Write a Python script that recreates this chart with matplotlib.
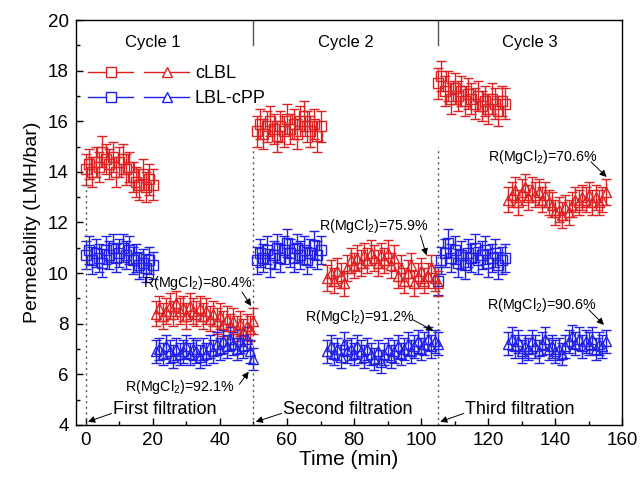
import matplotlib
matplotlib.use("Agg")
import matplotlib.pyplot as plt
from matplotlib.lines import Line2D
from matplotlib.legend_handler import HandlerTuple
import numpy as np

plt.rcParams['font.family'] = ['Liberation Sans', 'DejaVu Sans']
plt.rcParams['mathtext.fontset'] = 'custom'
plt.rcParams['mathtext.rm'] = 'Liberation Sans'

RED = '#dc2222'
BLUE = '#2020e6'

# ---- data ----
# cycle 1
t_c1_sq = np.arange(0, 21)
c1_clbl_sq = [14.1, 14.3, 14.0, 14.4, 14.2, 14.8, 14.5, 14.3, 14.6, 14.0, 14.4,
              14.5, 14.1, 14.2, 13.8, 13.6, 13.5, 13.9, 13.4, 13.7, 13.5]
c1_cpp_sq = [10.7, 10.9, 10.5, 10.8, 10.6, 10.4, 10.9, 10.7, 11.0, 10.6, 10.8,
             11.0, 10.7, 10.9, 10.5, 10.6, 10.3, 10.4, 10.2, 10.5, 10.3]
t_c1_tr = np.arange(21, 51)
c1_clbl_tr = [8.4, 8.6, 8.3, 8.5, 8.7, 8.4, 8.8, 8.5, 8.6, 8.3, 8.7, 8.5, 8.4, 8.6, 8.3,
              8.5, 8.2, 8.4, 8.1, 8.3, 8.0, 8.2, 7.9, 8.1, 7.8, 8.0, 7.7, 7.9, 7.8, 8.1]
c1_cpp_tr = [6.9, 7.0, 6.8, 7.1, 6.9, 6.7, 7.0, 6.8, 6.9, 7.1, 6.8, 7.0, 6.9, 6.7, 7.0,
             6.8, 7.1, 6.9, 7.2, 7.0, 7.3, 7.1, 7.4, 7.2, 7.0, 7.3, 7.1, 7.4, 6.9, 6.6]
# cycle 2
t_c2_sq = np.arange(51, 71)
c2_clbl_sq = [15.6, 15.9, 15.5, 15.8, 16.0, 15.7, 15.4, 15.8, 15.6, 16.1,
              15.7, 15.9, 15.5, 16.0, 16.2, 15.8, 15.6, 15.9, 15.4, 15.8]
c2_cpp_sq = [10.5, 10.8, 10.6, 10.9, 10.4, 10.7, 11.0, 10.6, 10.9, 11.2,
             10.8, 10.6, 11.0, 10.7, 10.9, 10.5, 10.8, 11.1, 10.7, 10.9]
t_c2_tr = np.arange(72, 106)
c2_clbl_tr = [9.8, 10.0, 9.7, 10.1, 9.9, 9.6, 10.2, 10.5, 10.3, 10.6, 10.4, 10.7,
              10.5, 10.8, 10.6, 10.4, 10.7, 10.5, 10.8, 10.3, 10.6, 9.9, 10.2, 9.7,
              10.0, 10.3, 9.6, 9.9, 10.1, 9.7, 9.9, 10.2, 9.8, 9.6]
c2_cpp_tr = [6.9, 7.1, 6.8, 7.0, 6.7, 7.2, 6.9, 7.0, 6.8, 7.1, 6.9, 6.7, 7.0, 6.8,
             6.6, 6.9, 6.5, 6.8, 7.0, 6.7, 6.9, 7.1, 6.8, 7.0, 7.2, 6.9, 7.1, 7.3,
             7.0, 7.2, 7.4, 7.1, 7.3, 7.2]
# cycle 3
t_c3_sq = np.arange(105, 126)
c3_clbl_sq = [17.5, 17.8, 17.2, 17.4, 16.9, 17.3, 17.0, 17.2, 16.8, 17.1, 16.9,
              16.7, 17.0, 16.6, 16.8, 16.5, 16.9, 16.7, 16.4, 16.8, 16.7]
c3_cpp_sq = [9.7, 10.5, 10.8, 11.2, 10.6, 10.9, 10.4, 10.7, 10.3, 10.8, 10.6,
             11.0, 10.5, 10.7, 10.9, 10.4, 10.6, 10.8, 10.3, 10.5, 10.6]
t_c3_tr = np.arange(126, 156)
c3_clbl_tr = [12.9, 13.1, 13.3, 12.8, 13.2, 13.4, 13.0, 13.3, 13.1, 13.2, 12.9,
              13.1, 12.8, 12.7, 12.4, 12.5, 12.3, 12.6, 12.4, 12.7, 12.9, 12.8,
              13.0, 12.9, 13.1, 12.8, 13.0, 12.8, 12.9, 13.2]
c3_cpp_tr = [7.2, 7.4, 7.1, 7.3, 6.9, 7.1, 7.0, 7.3, 7.1, 6.9, 7.2, 7.4, 7.0, 7.1,
             6.9, 7.0, 6.8, 7.1, 7.3, 7.5, 7.2, 7.4, 7.1, 7.3, 7.2, 7.4, 7.0, 7.2,
             7.1, 7.3]

# error bar half-widths per cluster
err_sq_clbl = 0.6
err_sq_cpp = 0.55
err_tr_clbl = 0.5
err_tr_cpp = 0.45

rejections = ['R(MgCl$_2$)=80.4%', 'R(MgCl$_2$)=92.1%', 'R(MgCl$_2$)=75.9%',
              'R(MgCl$_2$)=91.2%', 'R(MgCl$_2$)=70.6%', 'R(MgCl$_2$)=90.6%']
cycles = ['Cycle 1', 'Cycle 2', 'Cycle 3']
filtrations = ['First filtration', 'Second filtration', 'Third filtration']
cycle_starts = [0, 50, 105]

fig = plt.figure(figsize=(6.41, 4.80), dpi=100)
ax = fig.add_axes([0.118, 0.115, 0.853, 0.843])

def eb(t, y, err, color, marker):
    ax.errorbar(t, y, yerr=err, fmt=marker, color=color, mfc='none', mec=color,
                ms=7, mew=1.0, elinewidth=1.0, capsize=3.5, capthick=1.0)

for t, y in [(t_c1_sq, c1_clbl_sq), (t_c2_sq, c2_clbl_sq), (t_c3_sq, c3_clbl_sq)]:
    eb(t, y, err_sq_clbl, RED, 's')
for t, y in [(t_c1_sq, c1_cpp_sq), (t_c2_sq, c2_cpp_sq), (t_c3_sq, c3_cpp_sq)]:
    eb(t, y, err_sq_cpp, BLUE, 's')
for t, y in [(t_c1_tr, c1_clbl_tr), (t_c2_tr, c2_clbl_tr), (t_c3_tr, c3_clbl_tr)]:
    eb(t, y, err_tr_clbl, RED, '^')
for t, y in [(t_c1_tr, c1_cpp_tr), (t_c2_tr, c2_cpp_tr), (t_c3_tr, c3_cpp_tr)]:
    eb(t, y, err_tr_cpp, BLUE, '^')

# dotted start lines and solid cycle separators
for x0, top in zip(cycle_starts, [13.7, 14.9, 15.0]):
    ax.plot([x0, x0], [4, top], ls=(0, (1.5, 2.5)), color='#555555', lw=1.0)
for x0 in cycle_starts[1:]:
    ax.plot([x0, x0], [19.0, 20], color='#555555', lw=1.0)

for label, xc in zip(cycles, [20, 77.5, 132.5]):
    ax.text(xc, 19.1, label, ha='center', va='center', fontsize=12)

# rejection annotations: text centre, arrow start, arrow tip
text_pos = [(33.3, 9.6), (28.0, 5.5), (85.8, 11.85), (81.7, 8.27), (136.3, 14.6), (136.0, 8.74)]
arrow_from = [(46.6, 9.25), (45.8, 5.6), (99.8, 11.5), (97.6, 8.15), (150.6, 14.4), (150.0, 8.55)]
arrow_to = [(49.3, 8.7), (48.6, 6.1), (101.6, 10.7), (103.6, 7.72), (155.3, 13.8), (154.5, 7.95)]
for s, tp, a0, a1 in zip(rejections, text_pos, arrow_from, arrow_to):
    ax.text(tp[0], tp[1], s, ha='center', va='center', fontsize=10.3)
    ax.annotate('', xy=a1, xytext=a0,
                arrowprops=dict(arrowstyle='-|>', color='black', lw=0.7,
                                mutation_scale=10, shrinkA=0, shrinkB=0))

for s, x0, xt in zip(filtrations, cycle_starts, [8.0, 58.7, 113.0]):
    ax.text(xt, 4.62, s, ha='left', va='center', fontsize=13)
    ax.annotate('', xy=(x0 + 0.7, 4.12), xytext=(xt - 0.3, 4.45),
                arrowprops=dict(arrowstyle='-|>', color='black', lw=0.7,
                                mutation_scale=10, shrinkA=0, shrinkB=0))

ax.set_xlim(-3, 160)
ax.set_ylim(4, 20)
ax.set_xticks(np.arange(0, 161, 20))
ax.set_xticks(np.arange(10, 160, 20), minor=True)
ax.set_yticks(np.arange(4, 21, 2))
ax.set_yticks(np.arange(5, 20, 2), minor=True)
ax.tick_params(which='both', direction='in', labelsize=13.5, top=False, right=False)
ax.tick_params(which='major', length=5, width=1, pad=5)
ax.tick_params(which='minor', length=3, width=1)
for sp in ax.spines.values():
    sp.set_linewidth(1.0)

ax.set_xlabel('Time (min)', fontsize=15, labelpad=1)
ax.set_ylabel('Permeability (LMH/bar)', fontsize=14, labelpad=5)

def h(color, marker):
    return Line2D([], [], color=color, marker=marker, mfc='white', mec=color,
                  ms=7, lw=1.0)

ax.legend([(h(RED, 's'), h(RED, '^')), (h(BLUE, 's'), h(BLUE, '^'))],
          ['cLBL', 'LBL-cPP'],
          handler_map={tuple: HandlerTuple(ndivide=None, pad=0.6)},
          loc='upper left', bbox_to_anchor=(0.0, 0.92), frameon=False,
          fontsize=13, handlelength=5.6, handletextpad=0.3, labelspacing=0.45,
          borderaxespad=0.3)

fig.savefig('out.png', dpi=100)
